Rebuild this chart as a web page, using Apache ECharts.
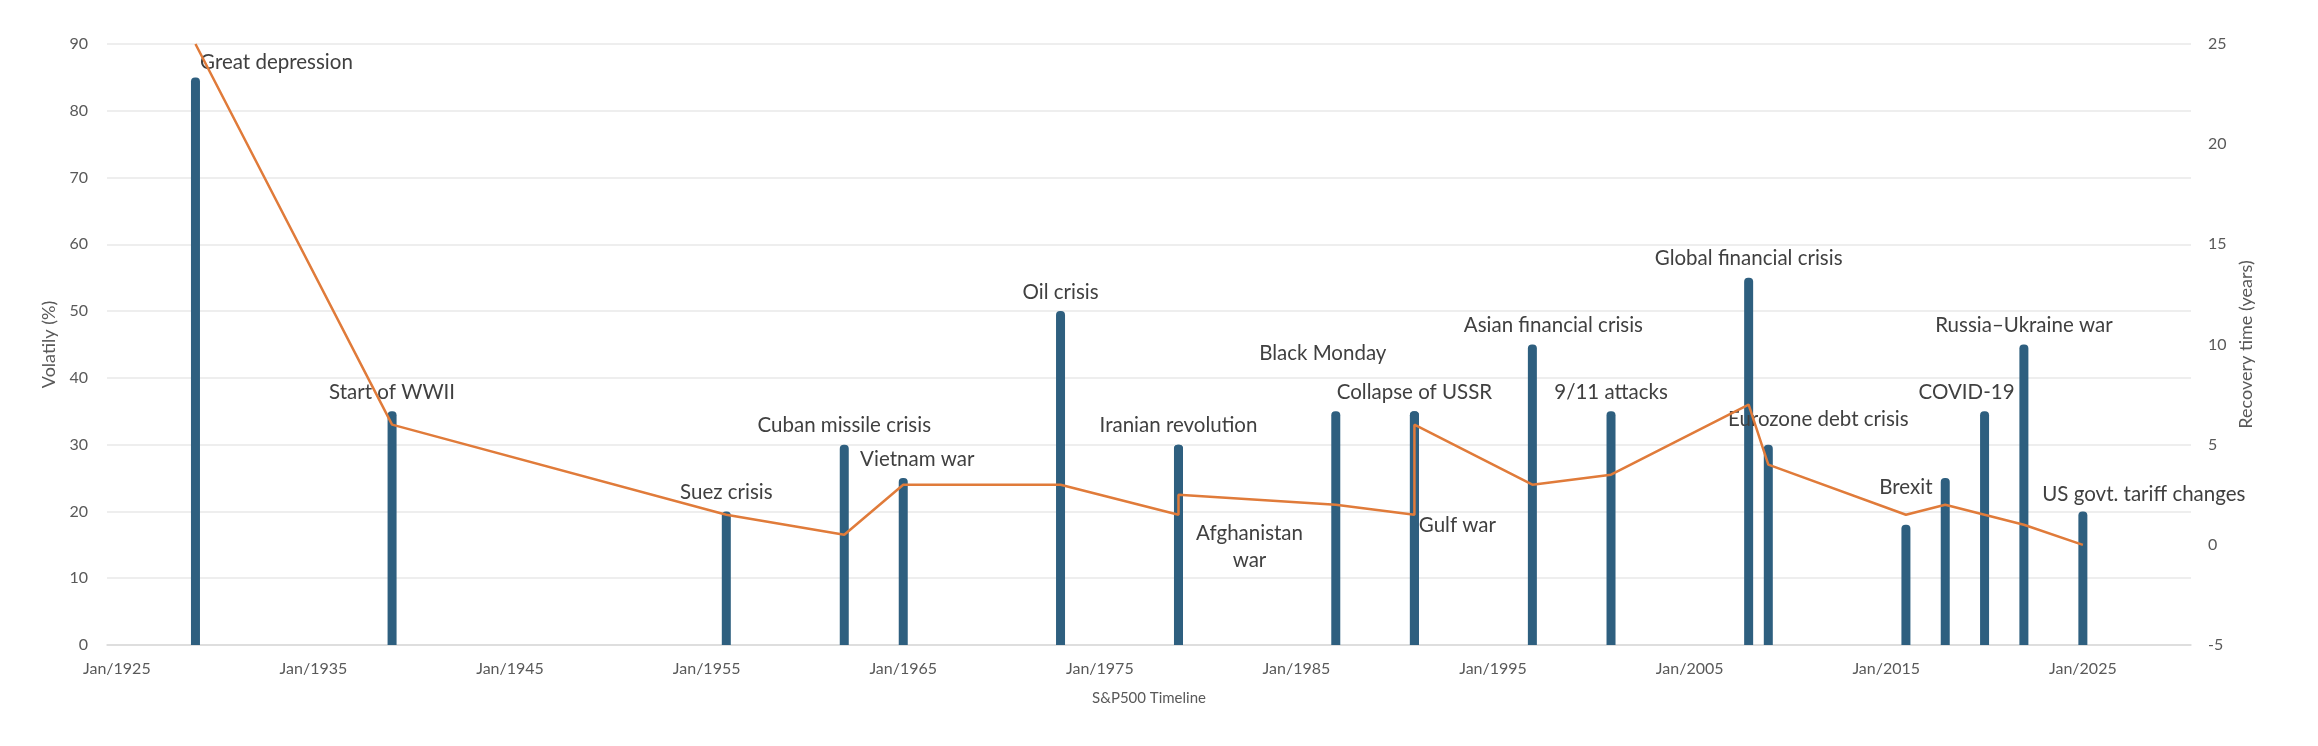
<!DOCTYPE html>
<html>
<head>
<meta charset="utf-8">
<script src="https://cdn.jsdelivr.net/npm/echarts@6/dist/echarts.min.js"></script>
<style>
  html, body { margin: 0; padding: 0; background: #fff; }
  #chart { width: 2318px; height: 746px; }
</style>
</head>
<body>
<div id="chart"></div>
<script>
// events along the S&P500 timeline
const eventNames = ['Great depression', 'Start of WWII', 'Suez crisis', 'Cuban missile crisis', 'Vietnam war',
  'Oil crisis', 'Iranian revolution', 'Afghanistan\nwar', 'Black Monday', 'Gulf war', 'Collapse of USSR',
  'Asian financial crisis', '9/11 attacks', 'Global financial crisis', 'Eurozone debt crisis', 'Brexit', '',
  'COVID-19', 'Russia–Ukraine war', 'US govt. tariff changes']
const eventYears = [1929, 1939, 1956, 1962, 1965, 1973, 1979, 1979, 1987, 1991, 1991,
  1997, 2001, 2008, 2009, 2016, 2018, 2020, 2022, 2025]
const volatility = [85, 35, 20, 30, 25, 50, 30, 30, 35, 35, 35, 45, 35, 55, 30, 18, 25, 35, 45, 20]
const recoveryYears = [25, 6, 1.5, 0.5, 3, 3, 1.5, 2.5, 2, 1.5, 6, 3, 3.5, 7, 4, 1.5, 2, 1.5, 1, 0]
const xTickYears = [1925, 1935, 1945, 1955, 1965, 1975, 1985, 1995, 2005, 2015, 2025]

// label placement tweaks (px from bar top centre), like the hand-moved excel labels
const labelNudge = {
  0: [81, -15], 4: [14, -19], 7: [71, 102], 8: [-13, -58], 9: [43, 114],
  11: [21, -19], 14: [50, -25], 15: [0, -37], 17: [-18, -19], 19: [61, -17]
}
const BAR_W = 9

const chart = echarts.init(document.getElementById('chart'))

const barData = eventYears.map((y, i) => {
  const n = labelNudge[i] || [0, -19]
  return {
    name: eventNames[i],
    value: [y, volatility[i]],
    label: {position: [BAR_W / 2 + n[0], n[1]]}
  }
})
const lineData = eventYears.map((y, i) => [y, recoveryYears[i]])

const font = 'Lato, "Open Sans", sans-serif'

chart.setOption({
  animation: false,
  backgroundColor: '#fff',
  grid: {left: 107, right: 127, top: 44, bottom: 101},
  xAxis: {
    type: 'value',
    min: 1924.5,
    max: 2030.5,
    name: 'S&P500 Timeline',
    nameLocation: 'middle',
    nameGap: 46,
    nameTextStyle: {color: '#595959', fontSize: 15, fontFamily: font},
    axisLine: {show: true, lineStyle: {color: '#d9d9d9', width: 1.5}},
    axisTick: {show: false},
    splitLine: {show: false},
    axisLabel: {
      customValues: xTickYears,
      formatter: v => 'Jan/' + v,
      color: '#595959',
      fontSize: 16,
      fontFamily: font,
      margin: 16
    }
  },
  yAxis: [{
    type: 'value',
    min: 0,
    max: 90,
    interval: 10,
    name: 'Volatily (%)',
    nameLocation: 'middle',
    nameGap: 40,
    nameTextStyle: {color: '#595959', fontSize: 18, fontFamily: font},
    axisLine: {show: false},
    axisTick: {show: false},
    splitLine: {lineStyle: {color: '#e8e8e8', width: 1.5}},
    axisLabel: {color: '#595959', fontSize: 16, fontFamily: font, margin: 19}
  }, {
    type: 'value',
    min: -5,
    max: 25,
    interval: 5,
    name: 'Recovery time (years)',
    nameLocation: 'middle',
    nameGap: 44,
    nameTextStyle: {color: '#595959', fontSize: 18, fontFamily: font},
    axisLine: {show: false},
    axisTick: {show: false},
    splitLine: {show: false},
    axisLabel: {color: '#595959', fontSize: 16, fontFamily: font, margin: 17}
  }],
  series: [{
    name: 'Volatility',
    type: 'bar',
    barWidth: BAR_W,
    data: barData,
    itemStyle: {color: '#2e5f7f', borderRadius: [4, 4, 0, 0]},
    label: {
      show: true,
      formatter: p => p.name,
      align: 'center',
      verticalAlign: 'middle',
      color: '#404040',
      fontSize: 20.5,
      lineHeight: 27,
      fontFamily: font
    }
  }, {
    name: 'Recovery time',
    type: 'line',
    yAxisIndex: 1,
    data: lineData,
    showSymbol: false,
    symbol: 'none',
    lineStyle: {color: '#e07b3a', width: 2.5},
    z: 3
  }]
})

window.onresize = function () {
  chart.resize()
}
</script>
</body>
</html>
